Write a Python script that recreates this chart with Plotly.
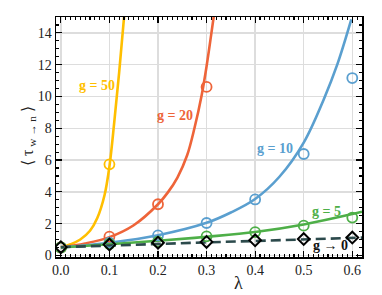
import plotly.graph_objects as go

# ---- data ----
lam_pts = [0.0, 0.1, 0.2, 0.3, 0.4, 0.5, 0.6]
g0_pts = [0.52, 0.68, 0.80, 0.85, 0.95, 1.03, 1.12]
g5_pts = [0.5, 0.72, 0.86, 1.20, 1.47, 1.87, 2.38]
g10_pts = [0.5, 0.80, 1.26, 2.04, 3.52, 6.38, 11.16]
lam_g20_pts = [0.0, 0.1, 0.2, 0.3]
g20_pts = [0.5, 1.18, 3.22, 10.6]
lam_g50_pts = [0.0, 0.1]
g50_pts = [0.5, 5.73]

# theory curves
lam_g0_line = [0.0, 0.1, 0.2, 0.3, 0.4, 0.5, 0.6, 0.62]
g0_line = [0.52, 0.63, 0.73, 0.82, 0.91, 1.0, 1.09, 1.12]
lam_g5_line = [0.0, 0.1, 0.2, 0.3, 0.4, 0.5, 0.6, 0.62]
g5_line = [0.5, 0.70, 0.92, 1.17, 1.47, 1.95, 2.60, 2.75]
lam_g10_line = [0.0, 0.1, 0.2, 0.3, 0.35, 0.4, 0.45, 0.5, 0.541, 0.569, 0.598]
g10_line = [0.5, 0.80, 1.27, 2.05, 2.70, 3.55, 4.95, 7.10, 9.8, 12.0, 14.85]
lam_g20_line = [0.0, 0.05, 0.1, 0.15, 0.2, 0.22, 0.24, 0.26, 0.275, 0.29, 0.3, 0.31, 0.316]
g20_line = [0.5, 0.75, 1.15, 1.9, 3.22, 3.95, 4.9, 6.3, 8.0, 10.1, 11.9, 14.0, 15.3]
lam_g50_line = [0.0, 0.02, 0.04, 0.06, 0.075, 0.09, 0.1, 0.11, 0.12, 0.131]
g50_line = [0.5, 0.7, 1.0, 1.55, 2.35, 3.8, 5.6, 8.4, 11.5, 15.3]

labels = ["g = 50", "g = 20", "g = 10", "g = 5", "g → 0"]
label_x = [0.0743, 0.235, 0.4418, 0.547, 0.555]
label_y = [10.66, 8.83, 6.74, 2.75, 0.65]

x_title = "λ"
y_title = "⟨ τ<sub> w → n</sub> ⟩"

c50 = "#FFBF00"
c20 = "#EE6439"
c10 = "#5A9FCF"
c5 = "#4EAF48"
c0 = "#2C4A4C"
colors = [c50, c20, c10, c5, "#111111"]

SERIF = "Liberation Serif"

fig = go.Figure()

for lx, ly, col in [(lam_g50_line, g50_line, c50), (lam_g20_line, g20_line, c20),
                    (lam_g10_line, g10_line, c10), (lam_g5_line, g5_line, c5)]:
    fig.add_trace(go.Scatter(x=lx, y=ly, mode="lines",
                             line=dict(color=col, width=2.6, shape="spline", smoothing=1.0),
                             showlegend=False, hoverinfo="skip"))

fig.add_trace(go.Scatter(x=lam_g0_line, y=g0_line, mode="lines",
                         line=dict(color=c0, width=2.6, dash="10px,5px"),
                         showlegend=False, hoverinfo="skip"))

for lx, ly, col in [(lam_g50_pts, g50_pts, c50), (lam_g20_pts, g20_pts, c20),
                    (lam_pts, g10_pts, c10), (lam_pts, g5_pts, c5)]:
    fig.add_trace(go.Scatter(x=lx, y=ly, mode="markers",
                             marker=dict(symbol="circle-open", size=10, color=col,
                                         line=dict(width=1.8, color=col)),
                             showlegend=False, hoverinfo="skip"))

fig.add_trace(go.Scatter(x=lam_pts, y=g0_pts, mode="markers",
                         marker=dict(symbol="diamond-open", size=9, color="black",
                                     line=dict(width=2, color="black")),
                         showlegend=False, hoverinfo="skip"))

for t, x, y, col in zip(labels, label_x, label_y, colors):
    fig.add_annotation(x=x, y=y, text="<b>" + t + "</b>", showarrow=False,
                       font=dict(family=SERIF, size=14, color=col),
                       xanchor="center", yanchor="middle")

# axis titles as paper-positioned annotations
fig.add_annotation(x=0.595, y=-0.108, xref="paper", yref="paper", text=x_title,
                   showarrow=False, font=dict(family=SERIF, size=18, color="#222222"),
                   xanchor="center", yanchor="middle")
fig.add_annotation(x=-0.092, y=0.504, xref="paper", yref="paper", text=y_title,
                   showarrow=False, textangle=-90,
                   font=dict(family=SERIF, size=16, color="#222222"),
                   xanchor="center", yanchor="middle")

axis_common = dict(
    showgrid=True, gridcolor="#DDDDDD", gridwidth=1.5,
    showline=True, linecolor="black", linewidth=1.5, mirror="allticks",
    ticks="inside", ticklen=6, tickwidth=1.2, tickcolor="black",
    zeroline=False, automargin=False,
    tickfont=dict(family=SERIF, size=14, color="#222222"),
)

fig.update_xaxes(range=[-0.01, 0.62], tick0=0, dtick=0.1, tickformat=".1f",
                 minor=dict(ticks="inside", ticklen=3, dtick=0.01, tick0=0,
                            tickcolor="black", showgrid=False),
                 **axis_common)
fig.update_yaxes(range=[-0.1, 15], tick0=0, dtick=2,
                 minor=dict(ticks="inside", ticklen=3, dtick=0.5, tick0=0,
                            tickcolor="black", showgrid=False),
                 **axis_common)

fig.update_layout(
    width=382, height=295,
    margin=dict(l=56, r=20, t=17, b=38),
    paper_bgcolor="white", plot_bgcolor="white",
    hovermode=False,
)

fig.write_html("out.html",
               config={"displayModeBar": False, "staticPlot": True},
               post_script="document.body.style.margin='0px';document.body.style.padding='0px';")
